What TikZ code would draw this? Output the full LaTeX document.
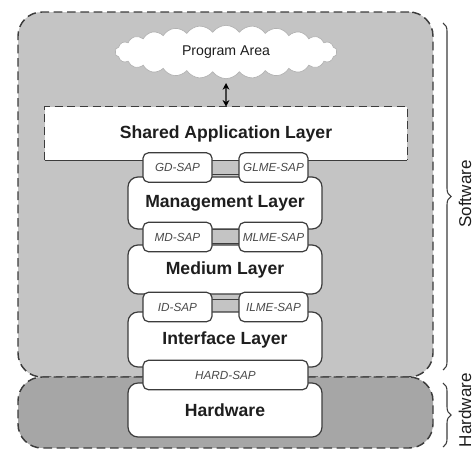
\documentclass[tikz,border=0pt]{standalone}
\usepackage{fontspec}
\setmainfont{Liberation Sans}
\usetikzlibrary{shapes.symbols,decorations.pathreplacing,arrows.meta}
\pgfdeclarelayer{regions}
\pgfdeclarelayer{bars}
\pgfsetlayers{regions,bars,main}
\definecolor{swgray}{HTML}{C4C4C4}
\definecolor{hwgray}{HTML}{A6A6A6}
\definecolor{linec}{HTML}{3C3C3C}
\definecolor{textc}{HTML}{1E1E1E}
\definecolor{sapc}{HTML}{4A4A4A}
\begin{document}
\begin{tikzpicture}[x=0.75pt,y=-0.75pt,
  region/.style={draw=linec, line width=1.1pt, dash pattern=on 6.5pt off 3.5pt, rounded corners=18pt, inner sep=0pt, minimum width=311.25pt},
  layerbox/.style={draw=linec, fill=white, line width=0.9pt, rounded corners=7.5pt, minimum width=145.5pt, inner sep=0pt, font=\fontsize{13.2}{15}\selectfont\bfseries, text=textc},
  sapbox/.style={draw=linec, fill=white, line width=0.9pt, rounded corners=4pt, minimum width=51.75pt, minimum height=22pt, inner sep=0pt, font=\fontsize{8.8}{10}\selectfont\itshape, text=sapc},
  barbox/.style={draw=linec, fill=swgray, line width=0.9pt},
  bracestyle/.style={draw=linec, line width=0.8pt, decorate, decoration={brace, amplitude=6pt}},
  sidelabel/.style={rotate=90, font=\fontsize{12.8}{15}\selectfont, text=textc}
]
\useasboundingbox (0,0) rectangle (473,450);

\begin{pgfonlayer}{regions}
\node[region, fill=swgray, minimum height=273.75pt] (sw) at (225.5,194.5) {};
\node[region, fill=hwgray, minimum height=53.25pt] (hwr) at (225.5,412.5) {};
\end{pgfonlayer}

% cloud
\node[cloud, cloud puffs=26, cloud puff arc=110, cloud ignores aspect, draw=gray!60, fill=white, line width=0.5pt,
      minimum width=166.5pt, minimum height=40pt, font=\fontsize{10.6}{12}\selectfont, text=textc] (prog) at (226,52) {Program Area};

% shared application layer
\node[fill=white, minimum width=271.5pt, minimum height=39.75pt, inner sep=0pt,
      font=\fontsize{13.2}{15}\selectfont\bfseries, text=textc] (shared) at (226,133.5) {\raisebox{2pt}{Shared Application Layer}};
\draw[linec, line width=1pt, dash pattern=on 6pt off 3.5pt] (shared.south west) |- (shared.north east) -- (shared.south east);
\draw[linec, line width=1pt] (shared.south west) -- (shared.south east);

\draw[black, line width=1pt, {Stealth[length=5pt,width=5pt]}-{Stealth[length=5pt,width=5pt]}, shorten <=3pt] (prog.south) -- (shared.north);

% layers
\node[layerbox, minimum height=39pt] (mgmt) at (225,203) {Management Layer};
\node[layerbox, minimum height=36.75pt] (medium) at (225,269.5) {\raisebox{-1.5pt}{Medium Layer}};
\node[layerbox, minimum height=41.25pt] (iface) at (225,339.5) {Interface Layer};
\node[layerbox, minimum height=40.5pt] (hw) at (225,410) {Hardware};

% SAPs
\node[sapbox] (gd) at (177.5,167.5) {GD-SAP};
\node[sapbox] (glme) at (273.5,167.5) {GLME-SAP};
\node[sapbox] (md) at (177.5,237) {MD-SAP};
\node[sapbox] (mlme) at (273.5,237) {MLME-SAP};
\node[sapbox] (id) at (177.5,307) {ID-SAP};
\node[sapbox] (ilme) at (273.5,307) {ILME-SAP};
\node[sapbox, minimum width=123.75pt] (hard) at (225.5,375) {HARD-SAP};

\begin{pgfonlayer}{bars}
\draw[barbox] ([xshift=-2pt,yshift=5.5pt]gd.east) rectangle ([xshift=2pt,yshift=-5pt]glme.west);
\draw[barbox] ([xshift=-2pt,yshift=5.5pt]md.east) rectangle ([xshift=2pt,yshift=-5pt]mlme.west);
\draw[barbox] ([xshift=-2pt,yshift=5.5pt]id.east) rectangle ([xshift=2pt,yshift=-5pt]ilme.west);
\end{pgfonlayer}

% braces
\coordinate (swt) at (443,23);
\coordinate (swb) at (443,370);
\coordinate (hwt) at (443,383);
\coordinate (hwb) at (443,447);
\draw[bracestyle] (swt) -- (swb);
\draw[bracestyle] (hwt) -- (hwb);
\node[sidelabel] (swlabel) at (465,194) {Software};
\node[sidelabel] (hwlabel) at (465,410) {Hardware};
\end{tikzpicture}
\end{document}
